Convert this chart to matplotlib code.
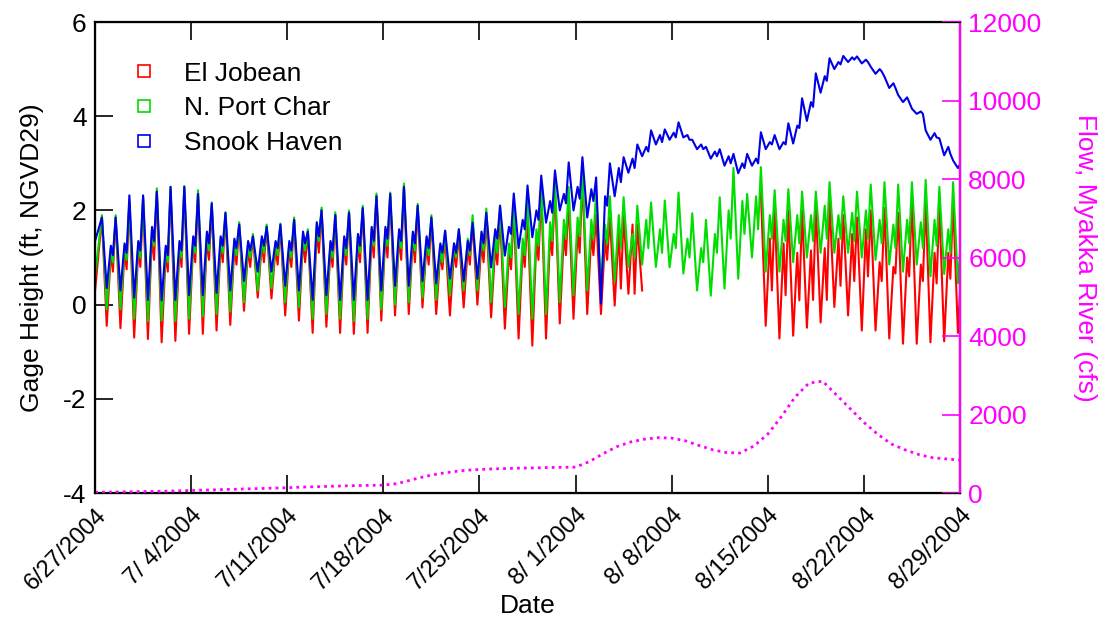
import numpy as np
import matplotlib
matplotlib.use('Agg')
import matplotlib.pyplot as plt
from matplotlib.lines import Line2D

plt.rcParams['font.family'] = ['Liberation Sans', 'DejaVu Sans']
plt.rcParams['axes.unicode_minus'] = False

nan = np.nan

# x tick labels, one per week starting 6/27/2004 (day 0)
tick_days = [0, 7, 14, 21, 28, 35, 42, 49, 56, 63]
tick_labels = ['6/27/2004', '7/ 4/2004', '7/11/2004', '7/18/2004', '7/25/2004',
               '8/ 1/2004', '8/ 8/2004', '8/15/2004', '8/22/2004', '8/29/2004']

# gage heights, read per day: higher high, lower low, lower high, higher low (ft)
# El Jobean
r_start = 0.30
r_hh = [1.85, 1.85, 2.15, 2.25, 2.40, 2.45, 2.45, 2.35, 2.10, 1.90, 1.70, 1.45, 1.65, 1.65, 1.80, 1.55,
        2.00, 1.90, 1.95, 2.05, 2.30, 2.30, 2.50, 2.05, 1.80, 1.45, 1.50, 1.75, 1.85, 1.90, 2.00, 1.95,
        2.40, 2.50, 2.20, 2.70, 1.90, 1.85, 1.89, 1.70, nan, nan, nan, nan, nan, nan, nan, nan,
        2.38, 2.04, 2.00, 2.00, 2.10, 2.20, 1.90, 1.85, 2.00, 2.05, 1.95, 2.20, 2.20, 2.10, 2.20]
r_ll = [-0.45, -0.50, -0.70, -0.73, -0.80, -0.77, -0.62, -0.62, -0.55, -0.43, -0.13, 0.15, 0.13, -0.23, -0.34, -0.60,
        -0.47, -0.60, -0.62, -0.60, -0.34, -0.23, -0.20, -0.06, -0.20, -0.23, -0.06, 0.00, -0.27, -0.51, -0.72, -0.87,
        -0.72, -0.40, -0.30, -0.20, -0.20, -0.02, 0.23, 0.30, nan, nan, nan, nan, nan, nan, nan, nan,
        -0.45, -0.72, -0.66, -0.49, -0.38, -0.05, -0.23, -0.55, -0.55, -0.72, -0.83, -0.83, -0.80, -0.78, -0.60]
r_lh = [1.10, 1.15, 1.20, 1.50, 1.10, 1.20, 1.30, 1.40, 1.30, 1.25, 1.20, 1.30, 1.20, 1.20, 1.40, 1.60,
        1.20, 1.30, 1.35, 1.50, 1.50, 1.45, 1.40, 1.30, 1.10, 1.15, 1.20, 1.30, 1.25, 1.10, 1.20, 1.40,
        1.50, 1.50, 1.55, 1.50, 1.40, 1.60, 1.70, nan, nan, nan, nan, nan, nan, nan, nan, nan,
        1.40, 1.30, 1.10, 1.15, 1.20, 1.40, 1.50, 1.60, 0.90, 0.80, 1.00, 0.85, 1.10, 1.10, 1.10]
r_hl = [0.70, 0.75, 0.80, 0.95, 0.70, 0.80, 0.90, 0.95, 0.90, 0.85, 0.80, 0.90, 0.85, 0.80, 0.90, 1.10,
        0.80, 0.85, 0.90, 1.00, 1.00, 0.95, 0.90, 0.85, 0.75, 0.80, 0.85, 0.90, 0.85, 0.75, 0.80, 0.95,
        1.05, 1.05, 1.10, 1.05, 0.95, 0.34, 0.23, nan, nan, nan, nan, nan, nan, nan, nan, nan,
        0.30, 0.20, 0.09, 0.10, 0.10, 0.40, 0.50, 0.60, 0.50, 0.66, 0.60, 0.50, 0.45, 0.55, 0.40]

# N. Port Char
g_start = 0.60
g_hh = [1.90, 1.90, 2.20, 2.30, 2.47, 2.50, 2.52, 2.43, 2.17, 1.96, 1.75, 1.50, 1.70, 1.72, 1.85, 1.60,
        2.06, 1.96, 2.00, 2.10, 2.36, 2.38, 2.57, 2.14, 1.90, 1.57, 1.60, 1.90, 2.04, 2.10, 2.20, 2.26,
        2.57, 2.64, 2.50, 2.85, 2.40, 2.30, 2.28, 2.10, 2.17, 2.21, 2.38, 1.94, 1.80, 2.28, 2.90, 2.35,
        2.92, 2.43, 2.45, 2.40, 2.40, 2.60, 2.30, 2.40, 2.55, 2.60, 2.55, 2.60, 2.65, 2.50, 2.60]
g_ll = [-0.10, -0.10, -0.30, -0.35, -0.34, -0.35, -0.30, -0.25, -0.20, -0.15, 0.05, 0.30, 0.35, 0.05, -0.05, -0.30,
        -0.20, -0.30, -0.35, -0.30, -0.10, 0.00, 0.05, 0.15, 0.10, 0.20, 0.30, 0.30, 0.05, -0.05, -0.20, -0.30,
        -0.20, 0.05, 0.20, 0.30, 0.40, 0.50, 0.80, 0.85, 0.80, 0.79, 0.66, 0.30, 0.19, 0.34, 0.55, 1.00,
        0.70, 0.70, 0.90, 1.00, 1.10, 1.10, 1.10, 1.00, 0.95, 0.85, 0.70, 0.85, 0.60, 0.65, 0.45]
g_lh = [1.20, 1.25, 1.30, 1.60, 1.20, 1.30, 1.40, 1.50, 1.40, 1.35, 1.30, 1.40, 1.30, 1.30, 1.50, 1.70,
        1.30, 1.40, 1.45, 1.60, 1.60, 1.55, 1.50, 1.40, 1.20, 1.30, 1.40, 1.50, 1.45, 1.30, 1.40, 1.60,
        1.75, 1.80, 1.85, 1.80, 1.70, 1.90, 1.50, 1.80, 1.60, 1.50, 1.40, 1.20, 1.50, 2.00, 2.20, 2.30,
        1.90, 1.80, 1.90, 1.90, 2.10, 1.90, 1.95, 2.00, 1.80, 1.70, 1.80, 1.75, 1.80, 1.60, 1.70]
g_hl = [0.90, 0.95, 1.00, 1.25, 0.90, 1.00, 1.10, 1.15, 1.10, 1.05, 1.00, 1.10, 1.05, 1.00, 1.15, 1.35,
        1.00, 1.05, 1.10, 1.25, 1.25, 1.20, 1.15, 1.05, 0.90, 1.00, 1.05, 1.15, 1.10, 1.00, 1.05, 1.25,
        1.35, 1.40, 1.45, 1.40, 1.30, 1.20, 1.00, 1.20, 1.10, 1.20, 1.00, 0.90, 1.10, 1.40, 1.50, 1.60,
        1.40, 1.35, 1.30, 1.35, 1.40, 1.40, 1.35, 1.40, 1.30, 1.20, 1.30, 1.20, 1.25, 1.10, 1.20]

# Snook Haven
b_start = 1.35
b_hh = [1.85, 1.85, 2.32, 2.32, 2.40, 2.50, 2.50, 2.35, 2.15, 1.95, 1.70, 1.45, 1.65, 1.70, 1.80, 1.55,
        2.00, 1.90, 1.95, 2.05, 2.30, 2.35, 2.50, 2.10, 1.85, 1.57, 1.60, 1.74, 1.95, 2.10, 2.36, 2.53,
        2.74, 2.85, 3.02, 3.13, 2.70, 3.00, 3.13, 3.40, 3.70, 3.72, 3.87, 3.50, 3.35, 3.30, 3.20, 3.20,
        3.66, 3.60, 3.85, 4.38, 4.91, 5.23, 5.28, 5.27, 5.05, 4.84, 4.45, 4.16, 3.70, 3.53, 3.06]
b_ll = [0.35, 0.30, 0.15, 0.10, 0.09, 0.10, 0.20, 0.20, 0.25, 0.30, 0.50, 0.70, 0.70, 0.40, 0.30, 0.10,
        0.20, 0.10, 0.10, 0.10, 0.30, 0.40, 0.40, 0.50, 0.45, 0.55, 0.50, 0.55, 0.79, 1.04, 1.20, 1.43,
        1.74, 2.00, 2.00, 1.85, 0.02, 2.30, 2.80, 3.15, 3.40, 3.50, 3.55, 3.30, 3.10, 2.95, 2.79, 2.95,
        3.30, 3.30, 3.42, 3.90, 4.50, 5.00, 5.15, 5.12, 4.90, 4.60, 4.30, 4.05, 3.50, 3.17, 2.90]
b_lh = [1.25, 1.30, 1.35, 1.65, 1.25, 1.35, 1.45, 1.55, 1.45, 1.40, 1.35, 1.45, 1.35, 1.35, 1.55, 1.75,
        1.35, 1.45, 1.50, 1.65, 1.65, 1.60, 1.55, 1.45, 1.30, 1.30, 1.35, 1.55, 1.60, 1.65, 1.80, 2.00,
        2.20, 2.35, 2.50, 2.45, 2.30, 2.90, 3.10, 3.35, 3.60, 3.65, 3.60, 3.40, 3.25, 3.15, 3.00, 3.10,
        3.45, 3.45, 3.80, 4.30, 4.85, 5.15, 5.25, 5.20, 5.00, 4.70, 4.40, 4.10, 3.64, 3.35, 3.05]
b_hl = [1.05, 1.10, 1.15, 1.35, 1.05, 1.15, 1.25, 1.30, 1.25, 1.20, 1.15, 1.25, 1.20, 1.15, 1.30, 1.45,
        1.15, 1.20, 1.25, 1.35, 1.40, 1.35, 1.30, 1.20, 1.10, 1.10, 1.15, 1.30, 1.40, 1.50, 1.60, 1.80,
        1.95, 2.15, 2.25, 2.20, 2.10, 2.60, 2.90, 3.25, 3.45, 3.55, 3.50, 3.30, 3.15, 3.00, 2.90, 3.00,
        3.40, 3.40, 3.75, 4.20, 4.75, 5.10, 5.20, 5.15, 4.95, 4.60, 4.30, 4.05, 3.55, 3.20, 2.57]

# daily flow, Myakka River (cfs), days 0..63
flow = [20, 25, 30, 35, 40, 45, 55, 65, 75, 85, 95, 105, 115, 125, 135, 150,
        160, 170, 180, 190, 195, 200, 240, 330, 420, 490, 540, 580, 600, 615, 625, 635,
        640, 650, 655, 660, 800, 1000, 1180, 1300, 1370, 1410, 1400, 1330, 1210, 1100, 1030, 1020,
        1200, 1500, 1950, 2450, 2800, 2850, 2500, 2150, 1800, 1500, 1250, 1100, 980, 900, 870, 840]

# timing of the four daily extremes (fraction of a day)
phase = np.array([0.5, 0.85, 1.15, 1.3])


def tide_series(start, hh, ll, lh, hl):
    days = np.arange(len(hh))
    t = (days[:, None] + phase[None, :]).ravel()
    v = np.column_stack([hh, ll, lh, hl]).ravel()
    return np.concatenate([[0.0], t]), np.concatenate([[start], v])


fig = plt.figure(figsize=(11.13, 6.2), dpi=100)
ax = fig.add_axes([0.0854, 0.2048, 0.7771, 0.7597])

series = [
    ('El Jobean', '#ff0000', r_start, r_hh, r_ll, r_lh, r_hl),
    ('N. Port Char', '#00dd00', g_start, g_hh, g_ll, g_lh, g_hl),
    ('Snook Haven', '#0000e6', b_start, b_hh, b_ll, b_lh, b_hl),
]
handles = []
for name, col, st, hh, ll, lh, hl in series:
    t, v = tide_series(st, hh, ll, lh, hl)
    ax.plot(t, v, color=col, lw=1.5)
    handles.append(Line2D([], [], ls='none', marker='s', markersize=9,
                          markerfacecolor='none', markeredgecolor=col, markeredgewidth=1.2,
                          label=name))

ax.set_xlim(0, 63)
ax.set_ylim(-4, 6)
ax.set_yticks([-4, -2, 0, 2, 4, 6])
ax.set_xticks(tick_days)
ax.set_xticklabels(tick_labels, rotation=45, ha='right', rotation_mode='anchor')
ax.tick_params(axis='both', direction='in', length=13, width=1.2, labelsize=19, top=True)
ax.tick_params(axis='x', labelsize=17, pad=8)
ax.tick_params(axis='y', pad=6)
for s in ax.spines.values():
    s.set_linewidth(1.6)
ax.set_ylabel('Gage Height (ft, NGVD29)', fontsize=19, labelpad=14)
ax.set_xlabel('Date', fontsize=19, labelpad=0)

leg = ax.legend(handles=handles, loc='upper left', bbox_to_anchor=(0.02, 0.955),
                frameon=False, fontsize=19, handlelength=1.0, handletextpad=1.0,
                labelspacing=0.4, borderpad=0.2)

ax2 = ax.twinx()
ax2.plot(np.arange(len(flow)), flow, color='#ff00ff', lw=2, ls=(0, (1, 1.5)))
ax2.set_ylim(0, 12000)
ax2.set_yticks(range(0, 12001, 2000))
ax2.tick_params(axis='y', direction='in', length=13, width=1.2, labelsize=19,
                colors='#ff00ff', pad=6)
ax2.spines['right'].set_color('#ff00ff')
ax2.spines['right'].set_linewidth(1.6)
ax2.set_ylabel('Flow, Myakka River (cfs)', fontsize=19, color='#ff00ff',
               rotation=270, labelpad=40)

fig.savefig('out.png', dpi=100)
